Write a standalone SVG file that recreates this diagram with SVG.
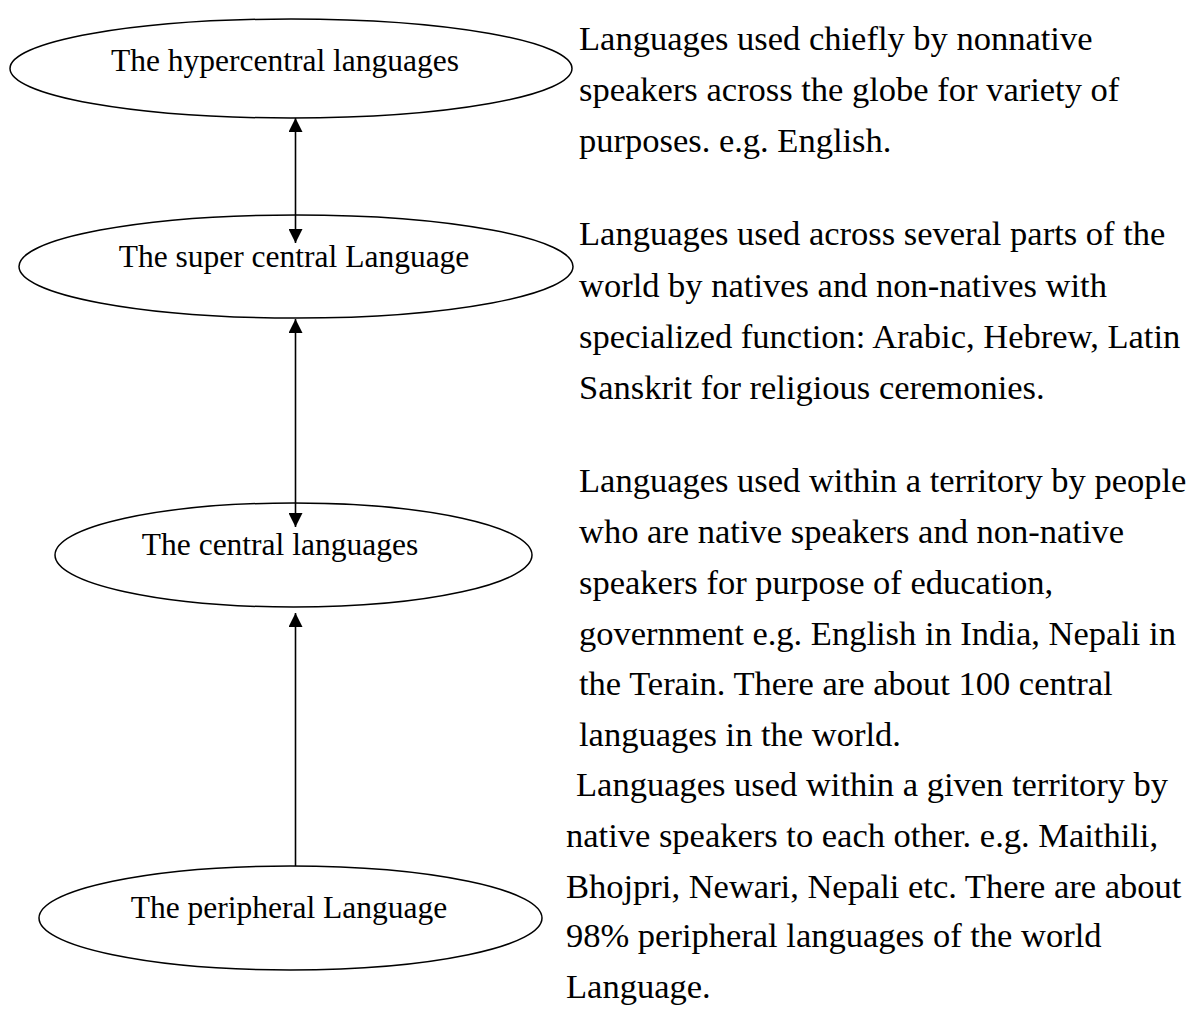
<svg xmlns="http://www.w3.org/2000/svg" width="1190" height="1014" viewBox="0 0 1190 1014">
<style>
.node ellipse{fill:#fff;stroke:#000;stroke-width:1.5}
.lbl{font-family:"Liberation Serif","Times New Roman",serif;font-size:31.5px;fill:#000;text-anchor:middle}
.desc{font-family:"Liberation Serif","Times New Roman",serif;font-size:34.5px;fill:#000}
.conn line{stroke:#000;stroke-width:1.6}
</style>
<defs>
<marker id="ah" markerUnits="userSpaceOnUse" markerWidth="14" markerHeight="14" viewBox="0 0 14 14" refX="14" refY="7" orient="auto-start-reverse">
<path d="M0,0 L14,7 L0,14 z" fill="#000"/>
</marker>
</defs>
<rect width="1190" height="1014" fill="#fff"/>
<g id="node-hypercentral" class="node">
<ellipse cx="291" cy="68.5" rx="281" ry="49.5"/>
<text class="lbl" x="285" y="71">The hypercentral languages</text>
</g>
<g id="node-supercentral" class="node">
<ellipse cx="296" cy="266.5" rx="277" ry="51.5"/>
<text class="lbl" x="294" y="267">The super central Language</text>
</g>
<g id="node-central" class="node">
<ellipse cx="293.5" cy="555" rx="238.5" ry="52"/>
<text class="lbl" x="280" y="555">The central languages</text>
</g>
<g id="node-peripheral" class="node">
<ellipse cx="290.5" cy="918" rx="251.5" ry="52"/>
<text class="lbl" x="289" y="918">The peripheral Language</text>
</g>
<g id="connectors" class="conn">
<line x1="295.5" y1="118" x2="295.5" y2="243" marker-start="url(#ah)" marker-end="url(#ah)"/>
<line x1="295.5" y1="319" x2="295.5" y2="527" marker-start="url(#ah)" marker-end="url(#ah)"/>
<line x1="295.5" y1="866" x2="295.5" y2="613" marker-end="url(#ah)"/>
</g>
<g id="descriptions">
<text class="desc" x="579" y="50">Languages used chiefly by nonnative</text>
<text class="desc" x="579" y="101">speakers across the globe for variety of</text>
<text class="desc" x="579" y="152">purposes. e.g. English.</text>
<text class="desc" x="579" y="245">Languages used across several parts of the</text>
<text class="desc" x="579" y="297">world by natives and non-natives with</text>
<text class="desc" x="579" y="348">specialized function: Arabic, Hebrew, Latin</text>
<text class="desc" x="579" y="399">Sanskrit for religious ceremonies.</text>
<text class="desc" x="579" y="492">Languages used within a territory by people</text>
<text class="desc" x="579" y="543">who are native speakers and non-native</text>
<text class="desc" x="579" y="594">speakers for purpose of education,</text>
<text class="desc" x="579" y="645">government e.g. English in India, Nepali in</text>
<text class="desc" x="579" y="695">the Terain. There are about 100 central</text>
<text class="desc" x="579" y="746">languages in the world.</text>
<text class="desc" x="576" y="796">Languages used within a given territory by</text>
<text class="desc" x="566" y="847">native speakers to each other. e.g. Maithili,</text>
<text class="desc" x="566" y="898">Bhojpri, Newari, Nepali etc. There are about</text>
<text class="desc" x="566" y="947">98% peripheral languages of the world</text>
<text class="desc" x="566" y="998">Language.</text>
</g>
</svg>
